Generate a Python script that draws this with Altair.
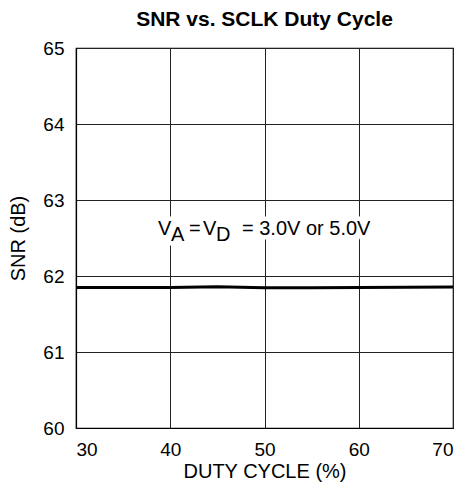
import altair as alt
import pandas as pd

# data
duty = [30, 35, 40, 45, 50, 55, 60, 65, 70]
snr = [61.85, 61.85, 61.85, 61.858, 61.845, 61.845, 61.848, 61.852, 61.855]

x_ticks = [30, 40, 50, 60, 70]
y_ticks = [60, 61, 62, 63, 64, 65]

title_text = "SNR vs. SCLK Duty Cycle"
x_title = "DUTY CYCLE (%)"
y_title = "SNR (dB)"

# annotation anchor (data coordinates) and its pieces
ann_x = [38.7]
ann_y = [62.54]
ann_main = ["V", "=", "V", "= 3.0V or 5.0V"]
ann_sub = ["A", "D"]

df = pd.DataFrame({"duty": duty, "snr": snr})
ann = pd.DataFrame({"x": ann_x, "y": ann_y})

FONT = "Liberation Sans"
FS = 19
AFS = 20

xs = alt.Scale(domain=[30, 70], nice=False)
ys = alt.Scale(domain=[60, 65], nice=False)

base = alt.Chart(df)

line = base.mark_line(color="black", strokeWidth=3).encode(
    x=alt.X("duty:Q", scale=xs,
            axis=alt.Axis(values=x_ticks, title=x_title, grid=True, ticks=False,
                          labelPadding=12, titlePadding=2, format="d")),
    y=alt.Y("snr:Q", scale=ys,
            axis=alt.Axis(values=y_ticks, title=y_title, grid=True, ticks=False,
                          labelPadding=12, titlePadding=14, format="d")),
)

def txt(s, dx, dy, halo=False):
    kw = dict(text=s, align="left", baseline="alphabetic", dx=dx, dy=dy,
              font=FONT, fontSize=AFS, color="black")
    if halo:
        kw.update(stroke="white", strokeWidth=9, color="white")
    return alt.Chart(ann).mark_text(**kw).encode(
        x=alt.X("x:Q", scale=xs), y=alt.Y("y:Q", scale=ys))

pieces = [
    (ann_main[0], 0, 0),
    (ann_sub[0], 13, 6),
    (ann_main[1], 31, 0),
    (ann_main[2], 45, 0),
    (ann_sub[1], 58, 6),
    (ann_main[3], 84, 0),
]

halos = [txt(s, dx, dy, halo=True) for s, dx, dy in pieces]
texts = [txt(s, dx, dy) for s, dx, dy in pieces]

chart = alt.layer(*halos, line, *texts).properties(
    width=377, height=380,
    autosize=alt.AutoSizeParams(type="none"),
    padding={"left": 68, "top": 40, "right": 14, "bottom": 61},
    title=alt.TitleParams(title_text, font=FONT, fontSize=21, fontWeight="bold",
                          offset=9, anchor="middle"),
).configure_axis(
    labelFont=FONT, labelFontSize=FS, labelColor="black",
    titleFont=FONT, titleFontSize=20, titleFontWeight="normal", titleColor="black",
    domainColor="black", domainWidth=1.2,
    gridColor="#222222", gridWidth=1, gridOpacity=1,
).configure_view(stroke="black", strokeWidth=1.2)

chart.save("out.html", embed_options={"renderer": "svg", "actions": False})
